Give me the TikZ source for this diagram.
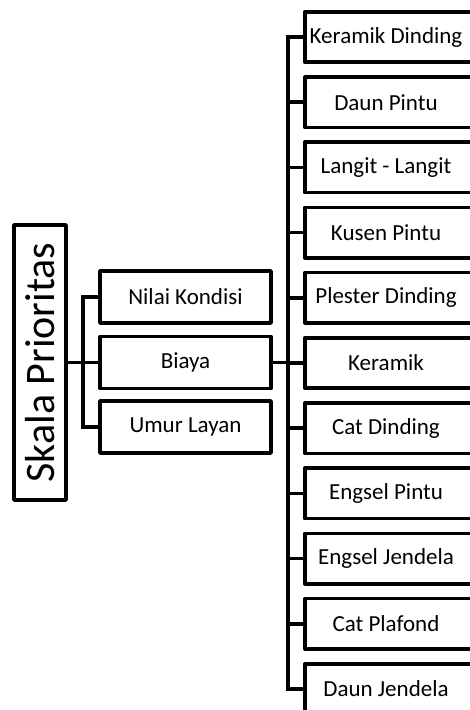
\documentclass[tikz,border=0pt]{standalone}
\usepackage{fontspec}
\setmainfont{Carlito}
\begin{document}
\begin{tikzpicture}[x=1pt,y=-1pt,
  ln/.style={line width=3.5pt},
  mbox/.style={draw,ln,line join=round,minimum width=171pt,minimum height=52pt,inner sep=0pt,
    font=\fontsize{23}{27}\selectfont},
  rbox/.style={minimum width=162pt,minimum height=50pt,inner sep=0pt,
    font=\fontsize{23}{27}\selectfont},
  rframe/.style={ln,line join=round}]
\useasboundingbox (0,0) rectangle (470,710);
\clip (0,0) rectangle (470,710);
\node[draw,ln,line join=round,minimum width=52pt,minimum height=275pt,inner sep=0pt,
  font=\fontsize{42}{50}\selectfont] (skala) at (40,362.5) {\rotatebox{90}{Skala Prioritas}};
\node[mbox] (nilai) at (185.5,297) {Nilai Kondisi};
\node[mbox] (biaya) at (185.5,362.5) {Biaya};
\node[mbox] (umur) at (185.5,427) {Umur Layan};
\foreach \i/\t in {1/Keramik Dinding,2/Daun Pintu,3/Langit - Langit,4/Kusen Pintu,5/Plester Dinding,6/Keramik,7/Cat Dinding,8/Engsel Pintu,9/Engsel Jendela,10/Cat Plafond,11/Daun Jendela}{
  \node[rbox] (r\i) at (386,{37+65.2*(\i-1)}) {\t};
  \draw[rframe] ([xshift=30pt]r\i.north east) -- (r\i.north west) -- (r\i.south west) -- ([xshift=30pt]r\i.south east);
}
\coordinate (lx) at (83,0);
\coordinate (tx) at (288,0);
\draw[ln] (skala.east) -- (biaya.west);
\draw[ln] (nilai.west) -- (nilai.west -| lx) -- (umur.west -| lx) -- (umur.west);
\draw[ln] (biaya.east) -- (biaya.east -| tx);
\draw[ln] (r1.west) -- (r1.west -| tx) -- (r11.west -| tx) -- (r11.west);
\foreach \i in {2,...,10}{
  \draw[ln] (r\i.west -| tx) -- (r\i.west);
}
\end{tikzpicture}
\end{document}
